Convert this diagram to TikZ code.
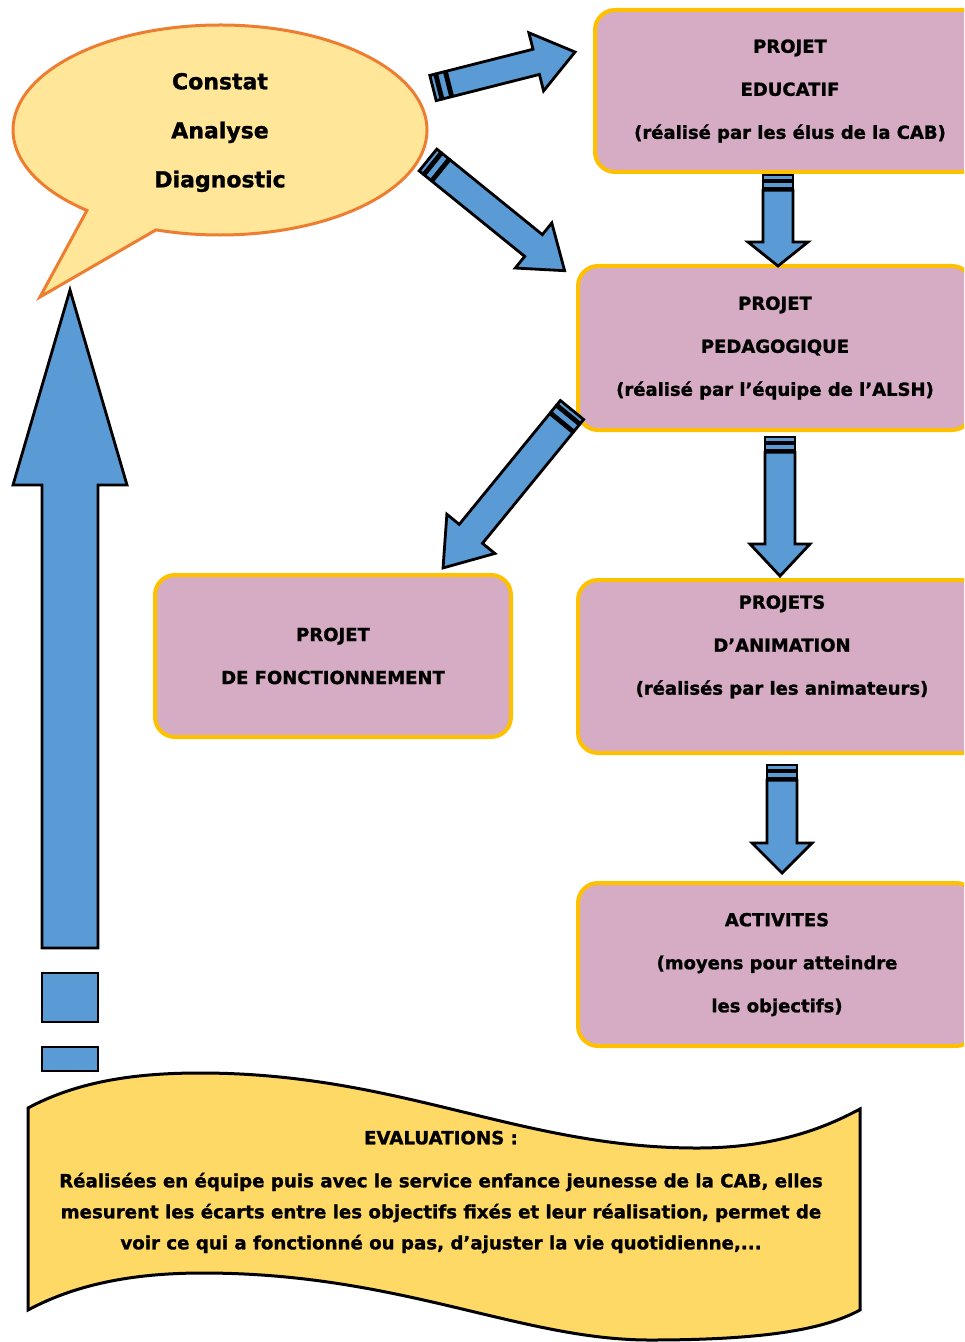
\documentclass[tikz,border=0pt]{standalone}
\usepackage{fontspec}
\setmainfont{DejaVu Sans}[BoldFeatures={FakeBold=1.3}]
\usetikzlibrary{calc}

\definecolor{arrowblue}{HTML}{5B9BD5}
\definecolor{boxmauve}{RGB}{214,172,196}
\definecolor{boxgold}{HTML}{FFC000}
\definecolor{bubblefill}{HTML}{FFE699}
\definecolor{bubbleline}{HTML}{ED7D31}
\definecolor{bannerfill}{HTML}{FFD966}

\tikzset{
  arrowbody/.style={draw=black, fill=arrowblue, line width=1.4pt, line join=miter},
  projbox/.style={draw=boxgold, fill=boxmauve, line width=2pt, rounded corners=10pt,
    align=center, inner sep=0pt, font=\fontsize{9}{21.5}\selectfont\bfseries},
}

% tail, tip, shaft half width, head half width, head length, bar 1, bar 2, gap (pt)
\newcommand{\blockarrow}[8]{%
  \path let \p1=($(#2)-(#1)$) in \pgfextra{%
    \pgfmathsetmacro{\arrang}{atan2(\y1,\x1)}%
    \pgfmathsetmacro{\arrlen}{veclen(\x1,\y1)}%
    \global\let\arrang\arrang \global\let\arrlen\arrlen};
  \begin{scope}[shift={(#1)}, rotate=\arrang]
    \pgfmathsetmacro{\arrbarA}{#6+#8}
    \pgfmathsetmacro{\arrbarB}{#6+#8+#7}
    \pgfmathsetmacro{\arrbarC}{#6+2*#8+#7}
    \pgfmathsetmacro{\arrhead}{\arrlen-#5}
    \draw[arrowbody] (0pt,-#3pt) rectangle (#6pt,#3pt);
    \draw[arrowbody] (\arrbarA pt,-#3pt) rectangle (\arrbarB pt,#3pt);
    \draw[arrowbody] (\arrbarC pt,-#3pt) -- (\arrhead pt,-#3pt) -- (\arrhead pt,-#4pt)
      -- (\arrlen pt,0pt) -- (\arrhead pt,#4pt) -- (\arrhead pt,#3pt) -- (\arrbarC pt,#3pt) -- cycle;
  \end{scope}}

\begin{document}
\begin{tikzpicture}[x=0.5pt, y=-0.5pt]
\path[use as bounding box, clip] (0,0) rectangle (964,1342);

% bulle
\coordinate (bub) at (220,130);
\coordinate (bubtip) at (40,297);
\draw[draw=bubbleline, fill=bubblefill, line width=1.5pt, line join=miter]
  ($(bub)+(252:103.5pt and 52.5pt)$) -- (bubtip) -- ($(bub)+(230:103.5pt and 52.5pt)$)
  arc[start angle=230, end angle=-108, x radius=103.5pt, y radius=52.5pt] -- cycle;
\node[font=\fontsize{11}{24.5}\selectfont\bfseries, align=center] (diag) at (220,132.5) {Constat\\Analyse\\Diagnostic};

% projets
\node[projbox, minimum width=195pt, minimum height=81pt] (educ) at (790,91) {PROJET\\EDUCATIF\\(réalisé par les élus de la CAB)};
\node[projbox, minimum width=197pt, minimum height=82pt] (peda) at (775,348) {PROJET\\PEDAGOGIQUE\\(réalisé par l’équipe de l’ALSH)};
\node[projbox, minimum width=178pt, minimum height=81pt] (fonct) at (333,656) {PROJET\\DE FONCTIONNEMENT};
\node[projbox, minimum width=204pt, minimum height=86.5pt] (anim) at (782,666.5) {PROJETS\\D’ANIMATION\\(réalisés par les animateurs)\\ \mbox{}};
\node[projbox, minimum width=199pt, minimum height=81.5pt] (activ) at (777,964.5) {ACTIVITES\\(moyens pour atteindre\\les objectifs)};

% evaluations
\draw[fill=bannerfill, line width=1.5pt]
  (28,1108) .. controls (80,1080) and (140,1073) .. (200,1073)
  .. controls (400,1073) and (520,1148) .. (697,1148)
  .. controls (780,1148) and (830,1125) .. (860,1109) -- (860,1310)
  .. controls (830,1326) and (780,1340) .. (650,1340)
  .. controls (520,1340) and (400,1273) .. (203,1273)
  .. controls (140,1273) and (80,1282) .. (28,1310) -- cycle;
\node[font=\fontsize{9.1}{15.5}\selectfont\bfseries, align=center] (evalu) at (441,1192)
  {EVALUATIONS :\\[6pt]Réalisées en équipe puis avec le service enfance jeunesse de la CAB, elles\\
   mesurent les écarts entre les objectifs fixés et leur réalisation, permet de\\
   voir ce qui a fonctionné ou pas, d’ajuster la vie quotidienne,...};

% fleches
\coordinate (a1tail) at (433,88);  \coordinate (a1tip) at (575,52);
\coordinate (a2tail) at (428,160); \coordinate (a2tip) at (565,271);
\coordinate (a3tail) at (778,175); \coordinate (a3tip) at (778,266);
\coordinate (a4tail) at (572,410); \coordinate (a4tip) at (443,568);
\coordinate (a5tail) at (780,437); \coordinate (a5tip) at (780,576);
\coordinate (a6tail) at (782,765); \coordinate (a6tip) at (782,873);
\coordinate (backtail) at (70,1071); \coordinate (backtip) at (70,290);
\blockarrow{a1tail}{a1tip}{6.5}{15}{20}{2.5}{4}{1}
\blockarrow{a2tail}{a2tip}{7}{14.5}{20}{2.5}{4}{1}
\blockarrow{a3tail}{a3tip}{7.5}{15}{12}{2.5}{3.5}{0.8}
\blockarrow{a4tail}{a4tip}{7.5}{15.5}{22}{2.5}{4}{1}
\blockarrow{a5tail}{a5tip}{7.5}{15}{16}{2.5}{3.5}{0.8}
\blockarrow{a6tail}{a6tip}{7.5}{15}{15}{2.5}{3.5}{0.8}
\blockarrow{backtail}{backtip}{14}{28.5}{97.5}{12}{24.5}{12.5}
\end{tikzpicture}
\end{document}
